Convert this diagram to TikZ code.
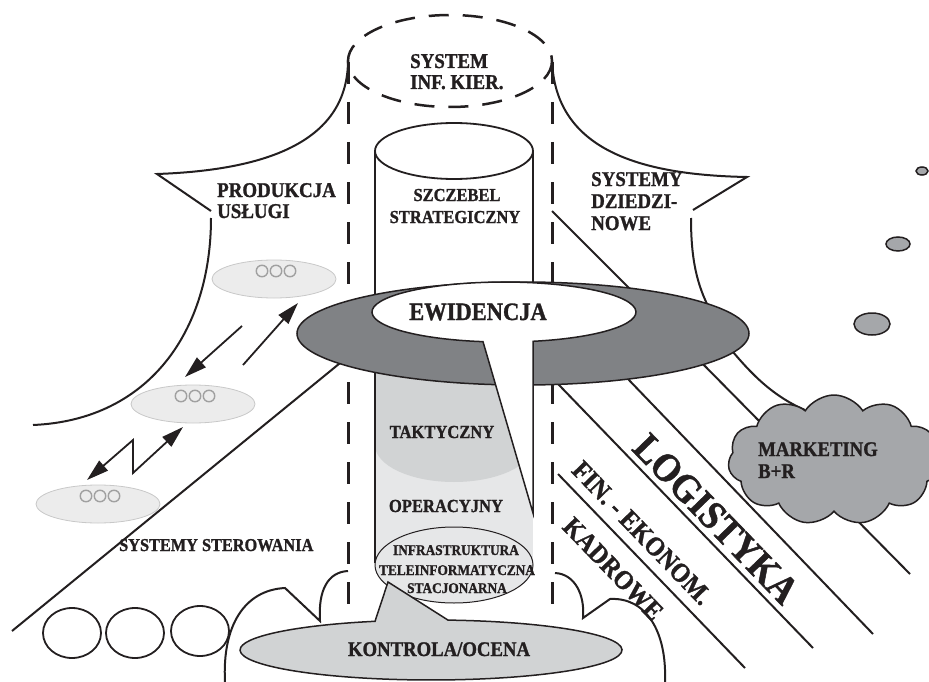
\documentclass[tikz,border=0pt]{standalone}
\usepackage{fontspec}
\setmainfont{Liberation Serif Bold}[FakeStretch=0.9, FakeBold=1.2]
\usetikzlibrary{shapes.geometric,shapes.symbols,arrows.meta}
\definecolor{ink}{HTML}{231F20}
\definecolor{ringgray}{HTML}{808285}
\definecolor{midgray}{HTML}{A5A7AA}
\definecolor{lgA}{HTML}{D1D3D4}
\definecolor{lgB}{HTML}{E6E7E8}
\definecolor{oooFill}{HTML}{ECECEC}
\definecolor{oooLine}{HTML}{C8C8C8}
\definecolor{oooRing}{HTML}{A0A0A0}
\tikzset{
  outl/.style={draw=ink, line width=2pt},
  dashv/.style={draw=ink, line width=3pt, dash pattern=on 22pt off 18pt},
  txt/.style={text=ink, inner sep=0pt, font=\fontsize{#1}{#1}\selectfont},
  oooell/.style={ellipse, fill=oooFill, draw=oooLine, line width=0.8pt, minimum width=124pt, minimum height=38pt, inner sep=0pt},
  ooodot/.style={circle, draw=oooRing, line width=1.4pt, minimum size=11.5pt, inner sep=0pt},
  arr/.style={draw=ink, line width=1.8pt, -{Triangle[length=22pt,width=13pt]}},
  dblarr/.style={draw=ink, line width=1.8pt, {Triangle[length=22pt,width=13pt]}-{Triangle[length=22pt,width=13pt]}},
  bubble/.style={draw=ink, line width=1.5pt, fill=midgray},
}
\begin{document}
\begin{tikzpicture}[x=1pt,y=-1pt]
\useasboundingbox (0,0) rectangle (929,682);

% ---- left shape (PRODUKCJA / USLUGI)
\draw[outl] (348,60) .. controls (348,140) and (270,170) .. (157,174) -- (211,211);
\draw[outl] (211,218) .. controls (211,330) and (150,420) .. (33,425);

% ---- right shape (SYSTEMY DZIEDZINOWE)
\draw[outl] (552,60) .. controls (555,150) and (640,175) .. (747,177) -- (693,210);
\draw[outl] (691,218) .. controls (691,260) and (697,285) .. (710,310);
\draw[outl] (728,346) .. controls (748,370) and (770,395) .. (805,410);

% ---- diagonal lines
\draw[outl] (552,211) -- (635,294);
\draw[outl] (345,359) -- (12,631);
\draw[outl] (548,373.6) -- (813,648);
\draw[outl] (620,370.7) -- (873,634);
\draw[outl] (695,356) -- (910,574);
\draw[outl] (558,474) -- (745,668);

% ---- dashed ellipse and verticals
\draw[ink, line width=2.5pt, dash pattern=on 20pt off 14pt] (450,61) ellipse [x radius=102, y radius=46];
\draw[dashv] (348,62) -- (348,613);
\draw[dashv] (552,62) -- (552,609);

% ---- cylinder, upper part
\fill[white] (375,151) rectangle (533,345);
\draw[ink, line width=1.5pt] (375,151) -- (375,345) (533,151) -- (533,345);
\draw[ink, line width=1.8pt, fill=white] (454,151) ellipse [x radius=79, y radius=28];

% ---- cylinder, lower part
\fill[lgB] (375,345) rectangle (533,565);
\fill[lgA] (375,345) -- (375,445) arc[start angle=180, end angle=0, x radius=79, y radius=37] -- (533,345) -- cycle;
\draw[ink, line width=1.5pt] (375,345) -- (375,563);
\draw[ink, line width=1.5pt] (533,345) -- (533,513);
\draw[ink, line width=1pt, fill=lgB] (454,565) ellipse [x radius=79, y radius=38];

% ---- ring EWIDENCJA
\draw[ink, line width=1.5pt, fill=ringgray] (523,333.5) ellipse [x radius=226, y radius=51.5];
\draw[ink, line width=1.5pt, fill=white] (533,341.3) arc[start angle=77.3, end angle=-260.85, x radius=132, y radius=30] -- (533,513) -- cycle;

% ---- KONTROLA callout
\draw[ink, line width=1.5pt, fill=lgA] (448,620.1) arc[start angle=-84.9, end angle=252.95, x radius=191, y radius=30] -- (388,582) -- cycle;

% ---- bottom bumps
\draw[outl] (225,682) .. controls (222,625) and (245,590) .. (285,588) -- (320,621)
            .. controls (318,590) and (328,572) .. (348,571);
\draw[outl] (555,573) .. controls (575,574) and (585,595) .. (583,618) -- (610,599)
            .. controls (645,597) and (667,630) .. (665,682);

% ---- three open circles
\draw[ink, line width=1.8pt] (72,633) ellipse [x radius=29, y radius=25];
\draw[ink, line width=1.8pt] (135,633) ellipse [x radius=29, y radius=25];
\draw[ink, line width=1.8pt] (200,631) ellipse [x radius=29, y radius=25];

% ---- OOO ellipses
\node[oooell] (e1) at (274,279) {};
\node[oooell] (e2) at (193,404) {};
\node[oooell] (e3) at (98,504) {};
\foreach \n/\cx/\cy in {d1/276/271, d2/195/396, d3/100/496}{
  \node[ooodot] (\n a) at (\cx-14,\cy) {};
  \node[ooodot] (\n b) at (\cx,\cy) {};
  \node[ooodot] (\n c) at (\cx+14,\cy) {};
}

% ---- arrows
\coordinate (a1s) at (242,326); \coordinate (a1e) at (185,377);
\coordinate (a2s) at (243,365); \coordinate (a2e) at (298,303);
\draw[arr] (a1s) -- (a1e);
\draw[arr] (a2s) -- (a2e);
\coordinate (z1) at (87,480); \coordinate (z2) at (133,440);
\coordinate (z3) at (133,473); \coordinate (z4) at (183,427);
\draw[dblarr] (z1) -- (z2) -- (z3) -- (z4);

% ---- right bubbles
\draw[bubble] (922,171) ellipse [x radius=6, y radius=4];
\draw[bubble] (898,244) ellipse [x radius=12, y radius=7];
\draw[bubble] (872,324) ellipse [x radius=18, y radius=11];

% ---- cloud
\node[cloud, cloud puffs=11, cloud puff arc=115, aspect=1.65, draw=ink, line width=1.5pt,
      fill=midgray, minimum width=212pt, minimum height=130pt, inner sep=0pt] (mkt) at (834,460) {};

% ---- texts
\node[txt=21, anchor=base west] (t1) at (410,68) {SYSTEM};
\node[txt=21, anchor=base west] (t2) at (410,89) {INF. KIER.};
\node[txt=21, anchor=base west] (t3) at (217,197) {PRODUKCJA};
\node[txt=21, anchor=base west] (t4) at (217,218) {USŁUGI};
\node[txt=21, anchor=base west] (t5) at (591,186) {SYSTEMY};
\node[txt=21, anchor=base west] (t6) at (591,208) {DZIEDZI-};
\node[txt=21, anchor=base west] (t7) at (591,230) {NOWE};
\node[txt=18.3, anchor=base] (t8) at (457,201) {SZCZEBEL};
\node[txt=18.3, anchor=base] (t9) at (455,223) {STRATEGICZNY};
\node[txt=25, anchor=base] (t10) at (478,320) {EWIDENCJA};
\node[txt=18.4, anchor=base] (t11) at (442,438) {TAKTYCZNY};
\node[txt=18.4, anchor=base] (t12) at (446,512) {OPERACYJNY};
\node[txt=14.8, anchor=base] (t13) at (456,555) {INFRASTRUKTURA};
\node[txt=14.8, anchor=base] (t14) at (457,575) {TELEINFORMATYCZNA};
\node[txt=14.8, anchor=base] (t15) at (457,593) {STACJONARNA};
\node[txt=20.8, anchor=base] (t16) at (439,656) {KONTROLA/OCENA};
\node[txt=18.1, anchor=base west] (t17) at (119,551) {SYSTEMY STEROWANIA};
\node[txt=20.8, anchor=base west] (t18) at (758,456) {MARKETING};
\node[txt=20.8, anchor=base west] (t19) at (758,478) {B+R};
\node[txt=40, rotate=-46] (t20) at (716,519) {LOGISTYKA};
\node[txt=27, rotate=-46] (t21) at (642,533) {FIN. - EKONOM.};
\node[txt=27, rotate=-46] (t22) at (613,569) {KADROWE};
\end{tikzpicture}
\end{document}
